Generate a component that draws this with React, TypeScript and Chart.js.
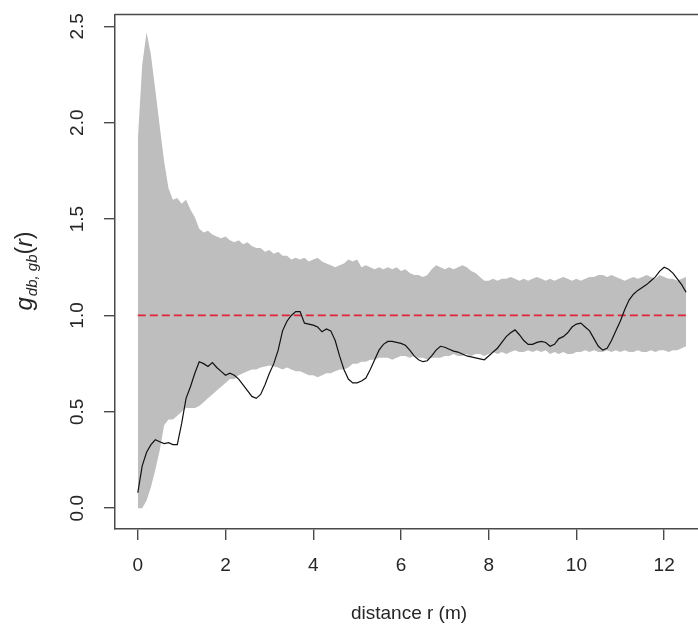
import React, { useEffect, useRef } from "react";
import { Chart, registerables } from "chart.js";

Chart.register(...registerables);

// distance r (m)
const distance = [
  0.0, 0.1, 0.2, 0.3, 0.4, 0.5, 0.6, 0.7, 0.8, 0.9,
  1.0, 1.1, 1.2, 1.3, 1.4, 1.5, 1.6, 1.7, 1.8, 1.9,
  2.0, 2.1, 2.2, 2.3, 2.4, 2.5, 2.6, 2.7, 2.8, 2.9,
  3.0, 3.1, 3.2, 3.3, 3.4, 3.5, 3.6, 3.7, 3.8, 3.9,
  4.0, 4.1, 4.2, 4.3, 4.4, 4.5, 4.6, 4.7, 4.8, 4.9,
  5.0, 5.1, 5.2, 5.3, 5.4, 5.5, 5.6, 5.7, 5.8, 5.9,
  6.0, 6.1, 6.2, 6.3, 6.4, 6.5, 6.6, 6.7, 6.8, 6.9,
  7.0, 7.1, 7.2, 7.3, 7.4, 7.5, 7.6, 7.7, 7.8, 7.9,
  8.0, 8.1, 8.2, 8.3, 8.4, 8.5, 8.6, 8.7, 8.8, 8.9,
  9.0, 9.1, 9.2, 9.3, 9.4, 9.5, 9.6, 9.7, 9.8, 9.9,
  10.0, 10.1, 10.2, 10.3, 10.4, 10.5, 10.6, 10.7, 10.8, 10.9,
  11.0, 11.1, 11.2, 11.3, 11.4, 11.5, 11.6, 11.7, 11.8, 11.9,
  12.0, 12.1, 12.2, 12.3, 12.4, 12.5,
];

// upper simulation envelope
const envelopeUpper = [
  1.91, 2.30, 2.47, 2.35, 2.17, 1.98, 1.80, 1.66, 1.60, 1.61,
  1.58, 1.60, 1.55, 1.51, 1.45, 1.43, 1.44, 1.42, 1.41, 1.40,
  1.41, 1.39, 1.38, 1.39, 1.37, 1.38, 1.36, 1.35, 1.35, 1.33,
  1.34, 1.32, 1.33, 1.31, 1.31, 1.29, 1.30, 1.29, 1.30, 1.28,
  1.29, 1.30, 1.28, 1.27, 1.26, 1.25, 1.26, 1.27, 1.29, 1.28,
  1.29, 1.25, 1.26, 1.25, 1.24, 1.25, 1.24, 1.25, 1.24, 1.25,
  1.23, 1.24, 1.22, 1.21, 1.21, 1.20, 1.21, 1.24, 1.26, 1.25,
  1.24, 1.25, 1.24, 1.25, 1.26, 1.25, 1.23, 1.22, 1.20, 1.18,
  1.18, 1.19, 1.18, 1.19, 1.19, 1.20, 1.19, 1.18, 1.19, 1.18,
  1.19, 1.20, 1.19, 1.18, 1.19, 1.18, 1.19, 1.20, 1.19, 1.18,
  1.19, 1.18, 1.19, 1.20, 1.20, 1.21, 1.21, 1.20, 1.21, 1.20,
  1.19, 1.18, 1.19, 1.20, 1.19, 1.20, 1.21, 1.20, 1.19, 1.21,
  1.20, 1.19, 1.19, 1.18, 1.19, 1.20,
];

// lower simulation envelope
const envelopeLower = [
  0.00, 0.00, 0.04, 0.11, 0.20, 0.30, 0.43, 0.46, 0.46, 0.48,
  0.50, 0.52, 0.52, 0.52, 0.53, 0.55, 0.57, 0.59, 0.61, 0.63,
  0.65, 0.67, 0.67, 0.69, 0.70, 0.71, 0.72, 0.72, 0.73, 0.735,
  0.74, 0.735, 0.73, 0.72, 0.73, 0.72, 0.71, 0.71, 0.70, 0.69,
  0.69, 0.68, 0.69, 0.70, 0.70, 0.71, 0.72, 0.72, 0.73, 0.75,
  0.75, 0.76, 0.76, 0.77, 0.77, 0.78, 0.78, 0.78, 0.77, 0.78,
  0.79, 0.79, 0.78, 0.79, 0.78, 0.78, 0.77, 0.78, 0.78, 0.78,
  0.79, 0.79, 0.80, 0.79, 0.79, 0.80, 0.79, 0.80, 0.80, 0.79,
  0.80, 0.81, 0.80, 0.81, 0.80, 0.81, 0.82, 0.81, 0.81, 0.82,
  0.81, 0.82, 0.81, 0.82, 0.80, 0.81, 0.80, 0.81, 0.80, 0.80,
  0.81, 0.81, 0.82, 0.81, 0.82, 0.81, 0.81, 0.82, 0.81, 0.82,
  0.81, 0.82, 0.81, 0.81, 0.82, 0.81, 0.81, 0.82, 0.81, 0.82,
  0.82, 0.81, 0.82, 0.82, 0.83, 0.84,
];

// observed g(r)
const observedG = [
  0.08, 0.22, 0.29, 0.33, 0.355, 0.345, 0.335, 0.34, 0.33, 0.33,
  0.44, 0.57, 0.63, 0.70, 0.76, 0.75, 0.735, 0.755, 0.73, 0.71,
  0.69, 0.70, 0.69, 0.67, 0.64, 0.61, 0.58, 0.57, 0.59, 0.64,
  0.70, 0.75, 0.82, 0.92, 0.97, 1.00, 1.02, 1.02, 0.96, 0.955,
  0.95, 0.94, 0.915, 0.93, 0.92, 0.87, 0.79, 0.72, 0.67, 0.65,
  0.65, 0.66, 0.675, 0.72, 0.77, 0.82, 0.85, 0.865, 0.865, 0.86,
  0.855, 0.845, 0.82, 0.79, 0.77, 0.76, 0.765, 0.79, 0.82, 0.84,
  0.835, 0.825, 0.815, 0.81, 0.80, 0.79, 0.785, 0.78, 0.775, 0.77,
  0.79, 0.81, 0.83, 0.86, 0.89, 0.91, 0.925, 0.90, 0.87, 0.85,
  0.85, 0.86, 0.865, 0.86, 0.84, 0.85, 0.88, 0.89, 0.91, 0.94,
  0.955, 0.96, 0.94, 0.92, 0.88, 0.84, 0.82, 0.83, 0.87, 0.92,
  0.97, 1.03, 1.08, 1.11, 1.13, 1.145, 1.16, 1.18, 1.20, 1.23,
  1.25, 1.24, 1.22, 1.19, 1.16, 1.12,
];

// theoretical g(r) = 1 (CSR)
const theoryX = [0, 12.5];
const theoryY = [1, 1];

const xTicks = [0, 2, 4, 6, 8, 10, 12];
const xTickLabels = ["0", "2", "4", "6", "8", "10", "12"];
const yTicks = [0, 0.5, 1.0, 1.5, 2.0, 2.5];
const yTickLabels = ["0.0", "0.5", "1.0", "1.5", "2.0", "2.5"];
const xTitle = "distance r (m)";

const FONT = "'Liberation Sans', Arial, Helvetica, sans-serif";
const AXIS_COLOR = "#4a4a4a";
const TEXT_COLOR = "#262626";

const textPlugin = {
  id: "rText",
  afterDraw(chart: any) {
    const ctx = chart.ctx;
    const area = chart.chartArea;
    const ys = chart.scales.y;
    ctx.save();
    // top and right frame lines
    ctx.strokeStyle = AXIS_COLOR;
    ctx.lineWidth = 1.5;
    ctx.beginPath();
    ctx.moveTo(area.left, area.top);
    ctx.lineTo(area.right, area.top);
    ctx.lineTo(area.right, area.bottom);
    ctx.stroke();

    // y tick labels (rotated, parallel to axis)
    ctx.fillStyle = TEXT_COLOR;
    ctx.font = `19px ${FONT}`;
    ctx.textAlign = "center";
    ctx.textBaseline = "middle";
    yTicks.forEach((v, i) => {
      const py = ys.getPixelForValue(v);
      ctx.save();
      ctx.translate(78, py);
      ctx.rotate(-Math.PI / 2);
      ctx.fillText(yTickLabels[i], 0, 0);
      ctx.restore();
    });

    // x title
    ctx.fillText(xTitle, 409, 614);

    // y title: g_{db,gb}(r)
    const mainFont = `italic 24px ${FONT}`;
    const subFont = `italic 15px ${FONT}`;
    const plainFont = `23px ${FONT}`;
    const rFont = `italic 23px ${FONT}`;
    const parts = [
      { t: "g", f: mainFont, dy: 0 },
      { t: "db, gb", f: subFont, dy: 5 },
      { t: "(", f: plainFont, dy: 0 },
      { t: "r", f: rFont, dy: 0 },
      { t: ")", f: plainFont, dy: 0 },
    ];
    let total = 0;
    const widths = parts.map((p) => {
      ctx.font = p.f;
      const w = ctx.measureText(p.t).width + (p.t === "g" ? 1 : 0);
      total += w;
      return w;
    });
    ctx.save();
    ctx.translate(27, 271);
    ctx.rotate(-Math.PI / 2);
    ctx.textAlign = "left";
    ctx.textBaseline = "alphabetic";
    let x = -total / 2;
    parts.forEach((p, i) => {
      ctx.font = p.f;
      ctx.fillText(p.t, x, 5 + p.dy);
      x += widths[i];
    });
    ctx.restore();
    ctx.restore();
  },
};

export default function App() {
  const ref = useRef<HTMLCanvasElement | null>(null);

  useEffect(() => {
    if (!ref.current) return;
    const pts = (ys: number[]) => distance.map((r, i) => ({ x: r, y: ys[i] }));
    const chart = new Chart(ref.current, {
      type: "line",
      data: {
        datasets: [
          {
            label: "observed",
            data: pts(observedG),
            borderColor: "#111111",
            borderWidth: 1.2,
            pointRadius: 0,
            tension: 0,
            fill: false,
          },
          {
            label: "theoretical",
            data: theoryX.map((r, i) => ({ x: r, y: theoryY[i] })),
            borderColor: "#e0243c",
            borderWidth: 1.7,
            borderDash: [8, 4],
            pointRadius: 0,
            fill: false,
          },
          {
            label: "upper",
            data: pts(envelopeUpper),
            borderWidth: 0,
            borderColor: "rgba(0,0,0,0)",
            backgroundColor: "#bebebe",
            pointRadius: 0,
            tension: 0,
            fill: "+1",
          },
          {
            label: "lower",
            data: pts(envelopeLower),
            borderWidth: 0,
            borderColor: "rgba(0,0,0,0)",
            pointRadius: 0,
            tension: 0,
            fill: false,
          },
        ],
      },
      options: {
        animation: false,
        responsive: false,
        maintainAspectRatio: false,
        layout: { padding: { top: 10, right: 10, left: 0, bottom: 0 } },
        plugins: {
          legend: { display: false },
          tooltip: { enabled: false },
        },
        scales: {
          x: {
            type: "linear",
            min: -0.52,
            max: 13.0,
            afterBuildTicks: (s: any) => {
              s.ticks = xTicks.map((v) => ({ value: v }));
            },
            afterFit: (s: any) => {
              s.height = 98;
            },
            grid: {
              display: true,
              drawOnChartArea: false,
              drawTicks: true,
              tickLength: 11,
              color: AXIS_COLOR,
              lineWidth: 1.4,
            },
            border: { display: true, color: AXIS_COLOR, width: 1.5 },
            ticks: {
              color: TEXT_COLOR,
              font: { family: FONT, size: 19 },
              padding: 14,
              maxRotation: 0,
              minRotation: 0,
              callback: (v: any) => {
                const i = xTicks.indexOf(Number(v));
                return i >= 0 ? xTickLabels[i] : "";
              },
            },
          },
          y: {
            type: "linear",
            min: -0.108,
            max: 2.562,
            afterBuildTicks: (s: any) => {
              s.ticks = yTicks.map((v) => ({ value: v }));
            },
            afterFit: (s: any) => {
              s.width = 115;
            },
            grid: {
              display: true,
              drawOnChartArea: false,
              drawTicks: true,
              tickLength: 11,
              color: AXIS_COLOR,
              lineWidth: 1.4,
            },
            border: { display: true, color: AXIS_COLOR, width: 1.5 },
            ticks: {
              color: "rgba(0,0,0,0)",
              font: { family: FONT, size: 19 },
            },
          },
        },
      },
      plugins: [textPlugin],
    });
    return () => chart.destroy();
  }, []);

  return (
    <div
      style={{
        position: "absolute",
        left: 0,
        top: 0,
        width: 698,
        height: 627,
        overflow: "hidden",
        background: "#ffffff",
      }}
    >
      <canvas ref={ref} width={718} height={627} style={{ display: "block", width: 718, height: 627 }} />
    </div>
  );
}
